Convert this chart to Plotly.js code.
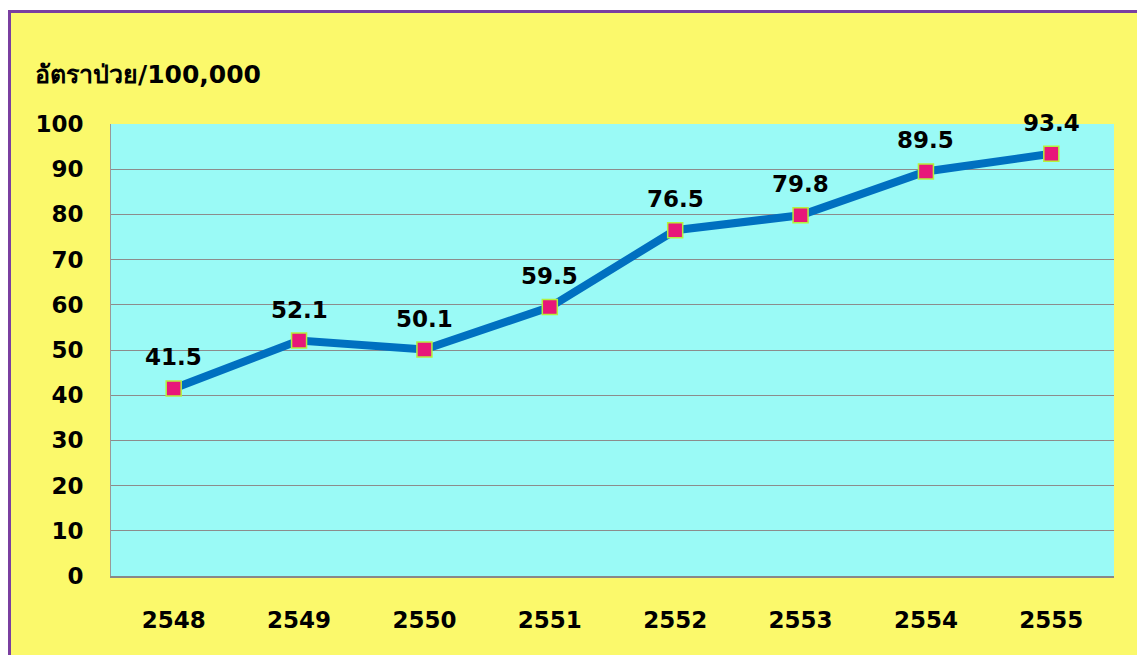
<!DOCTYPE html>
<html><head><meta charset="utf-8">
<script src="https://cdn.plot.ly/plotly-3.0.1.min.js"></script>
<style>
html,body{margin:0;padding:0;background:#fff;overflow:hidden;width:1137px;height:655px;}
#frame{position:absolute;left:8px;top:10px;width:1140px;height:660px;background:#FBF96B;border-left:3px solid #7A3FA0;border-top:3px solid #7A3FA0;box-sizing:border-box;}
#chart{position:absolute;left:0;top:0;width:1137px;height:655px;}
</style></head>
<body><div id="frame"></div><div id="chart"></div>
<script>
const years = ['2548','2549','2550','2551','2552','2553','2554','2555'];
const rates = [41.5, 52.1, 50.1, 59.5, 76.5, 79.8, 89.5, 93.4];
const yTitle = 'อัตราป่วย/100,000';
const fontFam = '"DejaVu Sans", Verdana, sans-serif';

const trace = {
  x: years, y: rates, type: 'scatter', mode: 'lines+markers',
  line: {color: '#0070C0', width: 8},
  marker: {symbol: 'square', size: 15, color: '#E8177A', line: {color: '#B5F03C', width: 1.5}},
  hoverinfo: 'none', cliponaxis: false
};
const anns = rates.map((v, i) => ({
  x: i, y: v, xref: 'x', yref: 'y', text: '<b>' + v.toFixed(1) + '</b>',
  showarrow: false, yshift: 31, font: {family: fontFam, size: 23, color: '#000'}
}));
anns.push({xref: 'paper', yref: 'paper', x: -0.078, y: 1.11, xanchor: 'left', yanchor: 'middle',
  text: '<b>' + yTitle + '</b>', showarrow: false, font: {family: fontFam, size: 25, color: '#000'}});

const layout = {
  width: 1137, height: 655,
  margin: {l: 111, r: 23, t: 124, b: 79},
  paper_bgcolor: 'rgba(0,0,0,0)', plot_bgcolor: '#9AFAF6',
  showlegend: false,
  xaxis: {type: 'category', range: [-0.5, 7.5], showgrid: false, zeroline: false,
    showline: true, linecolor: '#888', linewidth: 2, ticks: '', ticklabelstandoff: 22,
    tickfont: {family: fontFam, size: 23, color: '#000', weight: 'bold'}},
  yaxis: {range: [0, 100], dtick: 10, showgrid: true, gridcolor: '#8C8C8C', gridwidth: 1,
    zeroline: false, showline: true, linecolor: '#999', linewidth: 1, ticks: '', ticklabelstandoff: 22,
    tickfont: {family: fontFam, size: 23, color: '#000', weight: 'bold'}},
  annotations: anns
};
Plotly.newPlot('chart', [trace], layout, {displayModeBar: false, staticPlot: true});
</script></body></html>
